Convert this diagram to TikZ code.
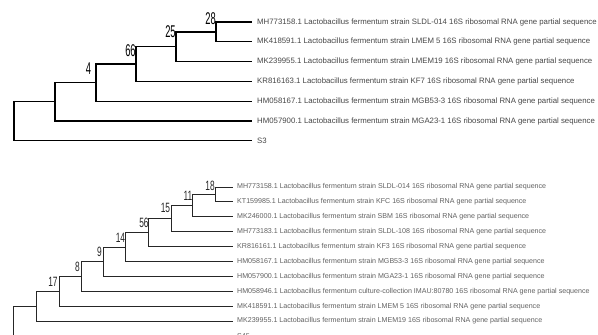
\documentclass[tikz,border=0pt]{standalone}
\usepackage{fontspec}
\setmainfont{Liberation Sans}
\newcommand\bnA[1]{\scalebox{0.55}[1]{#1}}
\newcommand\bnB[1]{\scalebox{0.62}[1]{#1}}
\tikzset{
  brA/.style={line width=1.3pt, black},
  brB/.style={line width=0.9pt, black!85},
  lfA/.style={anchor=west, inner sep=0pt, text=black!72, font=\fontsize{7.8}{8}\selectfont},
  lfB/.style={anchor=west, inner sep=0pt, text=black!62, font=\fontsize{7.1}{8}\selectfont},
  bsA/.style={inner sep=0pt, text=black, font=\fontsize{17}{17}\selectfont},
  bsB/.style={inner sep=0pt, text=black!85, font=\fontsize{13.5}{14}\selectfont},
}
\begin{document}
\begin{tikzpicture}[x=1pt,y=-1pt]
\useasboundingbox (0,0) rectangle (598,335);
\clip (0,0) rectangle (598,335);
\fill[white] (0,0) rectangle (598,335);
% ---------------- top tree ----------------
\coordinate (ta1) at (252,22);
\coordinate (ta2) at (252,41.8);
\coordinate (ta3) at (252,61.6);
\coordinate (ta4) at (252,81.4);
\coordinate (ta5) at (252,101.2);
\coordinate (ta6) at (252,121);
\coordinate (ta7) at (252,140.8);
\coordinate (tn28) at (216,31.9);
\coordinate (tn25) at (176,46.75);
\coordinate (tn66) at (136,64.1);
\coordinate (tn4) at (96,82.6);
\coordinate (tn55) at (55,101.8);
\coordinate (troot) at (14,121.3);
\draw[brA] (tn28) |- (ta1);
\draw[brA] (tn28) |- (ta2);
\draw[brA] (tn25) |- (tn28);
\draw[brA] (tn25) |- (ta3);
\draw[brA] (tn66) |- (tn25);
\draw[brA] (tn66) |- (ta4);
\draw[brA] (tn4) |- (tn66);
\draw[brA] (tn4) |- (ta5);
\draw[brA] (tn55) |- (tn4);
\draw[brA] (tn55) |- (ta6);
\draw[brA] (troot) |- (tn55);
\draw[brA] (troot) |- (ta7);
\node[lfA] (tl1) at ([xshift=5pt]ta1) {MH773158.1 Lactobacillus fermentum strain SLDL-014 16S ribosomal RNA gene partial sequence};
\node[lfA] (tl2) at ([xshift=5pt]ta2) {MK418591.1 Lactobacillus fermentum strain LMEM 5 16S ribosomal RNA gene partial sequence};
\node[lfA] (tl3) at ([xshift=5pt]ta3) {MK239955.1 Lactobacillus fermentum strain LMEM19 16S ribosomal RNA gene partial sequence};
\node[lfA] (tl4) at ([xshift=5pt]ta4) {KR816163.1 Lactobacillus fermentum strain KF7 16S ribosomal RNA gene partial sequence};
\node[lfA] (tl5) at ([xshift=5pt]ta5) {HM058167.1 Lactobacillus fermentum strain MGB53-3 16S ribosomal RNA gene partial sequence};
\node[lfA] (tl6) at ([xshift=5pt]ta6) {HM057900.1 Lactobacillus fermentum strain MGA23-1 16S ribosomal RNA gene partial sequence};
\node[lfA] (tl7) at ([xshift=5pt]ta7) {S3};
\node[bsA] (tb28) at (210.5,19) {\bnA{28}};
\node[bsA] (tb25) at (170.5,32) {\bnA{25}};
\node[bsA] (tb66) at (130.5,51) {\bnA{66}};
\node[bsA] (tb4) at (88.5,68.5) {\bnA{4}};
% ---------------- bottom tree ----------------
\coordinate (ba1) at (233,187);
\coordinate (ba2) at (233,201.9);
\coordinate (ba3) at (233,216.8);
\coordinate (ba4) at (233,231.7);
\coordinate (ba5) at (233,246.6);
\coordinate (ba6) at (233,261.5);
\coordinate (ba7) at (233,276.4);
\coordinate (ba8) at (233,291.3);
\coordinate (ba9) at (233,306.2);
\coordinate (ba10) at (233,321.1);
\coordinate (ba11) at (233,336);
\coordinate (bn18) at (215,194.45);
\coordinate (bn11) at (192,205.6);
\coordinate (bn15) at (171,218.65);
\coordinate (bn56) at (148,232.6);
\coordinate (bn14) at (125,247.05);
\coordinate (bn9) at (103,261.7);
\coordinate (bn8) at (81,276.5);
\coordinate (bn17) at (59,291.35);
\coordinate (bn36) at (36,306.2);
\coordinate (broot) at (13,321.1);
\draw[brB] (bn18) |- (ba1);
\draw[brB] (bn18) |- (ba2);
\draw[brB] (bn11) |- (bn18);
\draw[brB] (bn11) |- (ba3);
\draw[brB] (bn15) |- (bn11);
\draw[brB] (bn15) |- (ba4);
\draw[brB] (bn56) |- (bn15);
\draw[brB] (bn56) |- (ba5);
\draw[brB] (bn14) |- (bn56);
\draw[brB] (bn14) |- (ba6);
\draw[brB] (bn9) |- (bn14);
\draw[brB] (bn9) |- (ba7);
\draw[brB] (bn8) |- (bn9);
\draw[brB] (bn8) |- (ba8);
\draw[brB] (bn17) |- (bn8);
\draw[brB] (bn17) |- (ba9);
\draw[brB] (bn36) |- (bn17);
\draw[brB] (bn36) |- (ba10);
\draw[brB] (broot) |- (bn36);
\draw[brB] (broot) |- (ba11);
\node[lfB] (bl1) at ([xshift=4pt]ba1) {MH773158.1 Lactobacillus fermentum strain SLDL-014 16S ribosomal RNA gene partial sequence};
\node[lfB] (bl2) at ([xshift=4pt]ba2) {KT159985.1 Lactobacillus fermentum strain KFC 16S ribosomal RNA gene partial sequence};
\node[lfB] (bl3) at ([xshift=4pt]ba3) {MK246000.1 Lactobacillus fermentum strain SBM 16S ribosomal RNA gene partial sequence};
\node[lfB] (bl4) at ([xshift=4pt]ba4) {MH773183.1 Lactobacillus fermentum strain SLDL-108 16S ribosomal RNA gene partial sequence};
\node[lfB] (bl5) at ([xshift=4pt]ba5) {KR816161.1 Lactobacillus fermentum strain KF3 16S ribosomal RNA gene partial sequence};
\node[lfB] (bl6) at ([xshift=4pt]ba6) {HM058167.1 Lactobacillus fermentum strain MGB53-3 16S ribosomal RNA gene partial sequence};
\node[lfB] (bl7) at ([xshift=4pt]ba7) {HM057900.1 Lactobacillus fermentum strain MGA23-1 16S ribosomal RNA gene partial sequence};
\node[lfB] (bl8) at ([xshift=4pt]ba8) {HM058946.1 Lactobacillus fermentum culture-collection IMAU:80780 16S ribosomal RNA gene partial sequence};
\node[lfB] (bl9) at ([xshift=4pt]ba9) {MK418591.1 Lactobacillus fermentum strain LMEM 5 16S ribosomal RNA gene partial sequence};
\node[lfB] (bl10) at ([xshift=4pt]ba10) {MK239955.1 Lactobacillus fermentum strain LMEM19 16S ribosomal RNA gene partial sequence};
\node[lfB] (bl11) at ([xshift=4pt]ba11) {S45};
\node[bsB] (bb18) at (210,185.5) {\bnB{18}};
\node[bsB] (bb11) at (188,195.7) {\bnB{11}};
\node[bsB] (bb15) at (165.5,208) {\bnB{15}};
\node[bsB] (bb56) at (144,223) {\bnB{56}};
\node[bsB] (bb14) at (120.5,238) {\bnB{14}};
\node[bsB] (bb9) at (99.5,252) {\bnB{9}};
\node[bsB] (bb8) at (77.5,266.7) {\bnB{8}};
\node[bsB] (bb17) at (53,282) {\bnB{17}};
\end{tikzpicture}
\end{document}
